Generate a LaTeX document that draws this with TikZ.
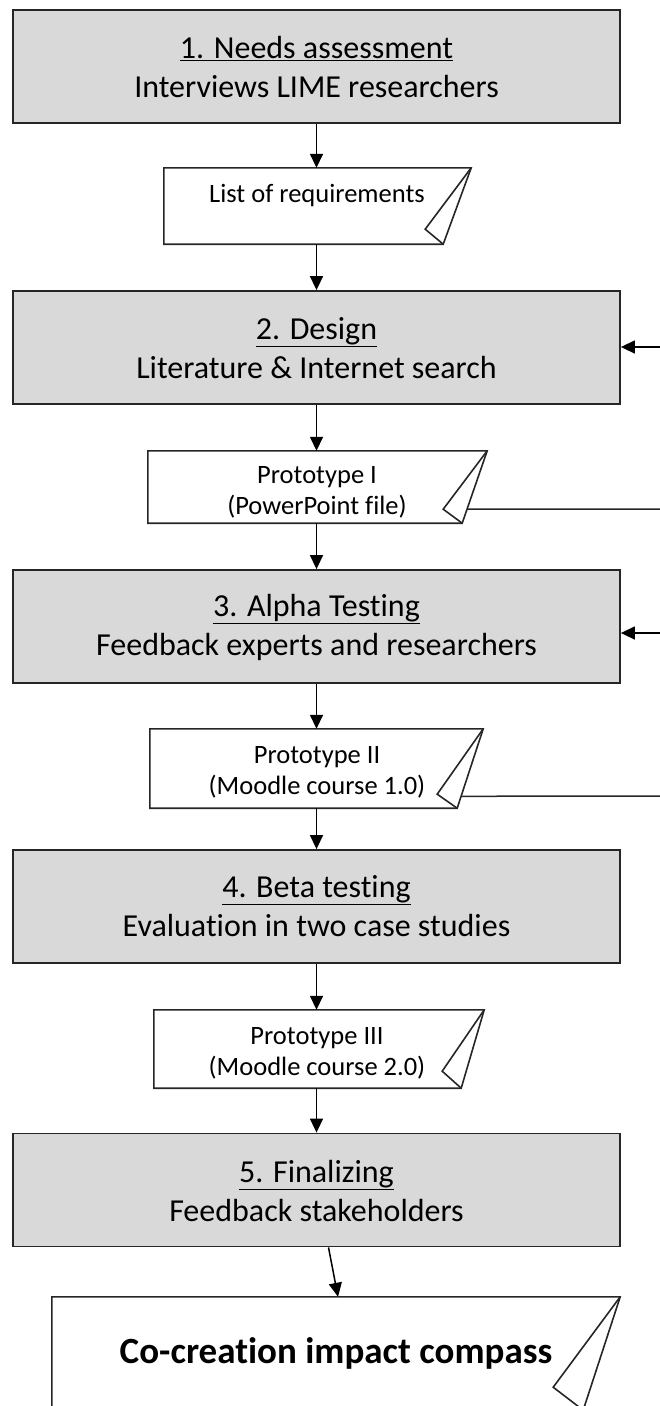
\documentclass[tikz,border=0pt]{standalone}
\usepackage{fontspec}
\setmainfont[Ligatures=NoCommon]{Carlito}
\usetikzlibrary{arrows.meta,calc}
\definecolor{boxgray}{HTML}{D9D9D9}
\newcommand\docshape[4]{%
  \draw[docline] (#1.north west) -- (#1.north east) -- ([xshift=-#2]#1.south east) -- (#1.south west) -- cycle;
  \draw[docline] (#1.north east) -- ([xshift=-#3,yshift=#4]#1.south east) -- ([xshift=-#2]#1.south east);}
\begin{document}
\begin{tikzpicture}[x=1pt,y=-1pt,
  stage/.style={draw=black!85, line width=1.8pt, fill=boxgray, minimum width=607pt, minimum height=113pt, inner sep=0pt},
  docbox/.style={inner sep=0pt, draw=none, fill=none},
  docline/.style={draw=black!85, line width=1.6pt, line join=miter},
  bigtxt/.style={font=\fontsize{32}{39}\selectfont, align=center, inner sep=0pt},
  smalltxt/.style={font=\fontsize{26.5}{31}\selectfont, align=center, inner sep=0pt},
  finaltxt/.style={font=\fontsize{37}{42}\selectfont\bfseries, align=center, inner sep=0pt},
  flow/.style={line width=1.5pt, draw=black, -{Triangle[length=14pt,width=13pt]}},
  fb/.style={line width=1.5pt, draw=black!85}]
\useasboundingbox (0,0) rectangle (660,1406);
\clip (0,0) rectangle (660,1406);

% stage boxes
\node[stage] (b1) at (316.5,66.5) {};
\node[bigtxt] (t1) at (316.5,67.5) {\underline{1. Needs assessment}\\Interviews LIME researchers};
\node[stage] (b2) at (316.5,347.5) {};
\node[bigtxt] (t2) at (316.5,348) {\underline{2. Design}\\Literature \& Internet search};
\node[stage] (b3) at (316.5,626.5) {};
\node[bigtxt] (t3) at (316.5,627) {\underline{3. Alpha Testing}\\Feedback experts and researchers};
\node[stage] (b4) at (316.5,906.5) {};
\node[bigtxt] (t4) at (316.5,906) {\underline{4. Beta testing}\\Evaluation in two case studies};
\node[stage] (b5) at (316.5,1190) {};
\node[bigtxt] (t5) at (316.5,1191) {\underline{5. Finalizing}\\Feedback stakeholders};

% document boxes
\node[docbox, minimum width=307pt, minimum height=76pt] (d1) at (317.5,206) {};
\docshape{d1}{28pt}{46pt}{15pt}
\node[smalltxt] (dt1) at (317,196) {List of requirements};

\node[docbox, minimum width=339pt, minimum height=72pt] (d2) at (317.5,487) {};
\docshape{d2}{25pt}{44pt}{14pt}
\node[smalltxt] (dt2) at (317,492.5) {Prototype I\\(PowerPoint file)};

\node[docbox, minimum width=333pt, minimum height=79pt] (d3) at (316.5,768.5) {};
\docshape{d3}{26pt}{46pt}{14pt}
\node[smalltxt] (dt3) at (317,772.5) {Prototype II\\(Moodle course 1.0)};

\node[docbox, minimum width=330pt, minimum height=78pt] (d4) at (319,1049) {};
\docshape{d4}{23pt}{42pt}{17pt}
\node[smalltxt] (dt4) at (317,1053.5) {Prototype III\\(Moodle course 2.0)};

\node[docbox, minimum width=568pt, minimum height=113pt] (f) at (336,1353.5) {};
\docshape{f}{37pt}{67pt}{23pt}
\node[finaltxt] (ft) at (336,1353) {Co-creation impact compass};

% main flow
\draw[flow] (b1.south) -- (b1.south |- d1.north);
\draw[flow] (b1.south |- d1.south) -- (b1.south |- b2.north);
\draw[flow] (b2.south) -- (b2.south |- d2.north);
\draw[flow] (b2.south |- d2.south) -- (b2.south |- b3.north);
\draw[flow] (b3.south) -- (b3.south |- d3.north);
\draw[flow] (b3.south |- d3.south) -- (b3.south |- b4.north);
\draw[flow] (b4.south) -- (b4.south |- d4.north);
\draw[flow] (b4.south |- d4.south) -- (b4.south |- b5.north);
\draw[flow] ([xshift=12pt]b5.south) -- ([xshift=2pt]f.north);

% feedback loops (continue beyond the right edge)
\coordinate (fin2) at (660,347);
\coordinate (fout1) at (660,509);
\coordinate (fin3) at (660,633);
\coordinate (fout2) at (660,796);
\draw[flow] (fin2) -- (fin2 -| b2.east);
\draw[fb] ($(d2.north east)!0.806!([xshift=-25pt]d2.south east)$) -- (fout1);
\draw[flow] (fin3) -- (fin3 -| b3.east);
\draw[fb] ($(d3.north east)!0.85!([xshift=-26pt]d3.south east)$) -- (fout2);
\end{tikzpicture}
\end{document}
